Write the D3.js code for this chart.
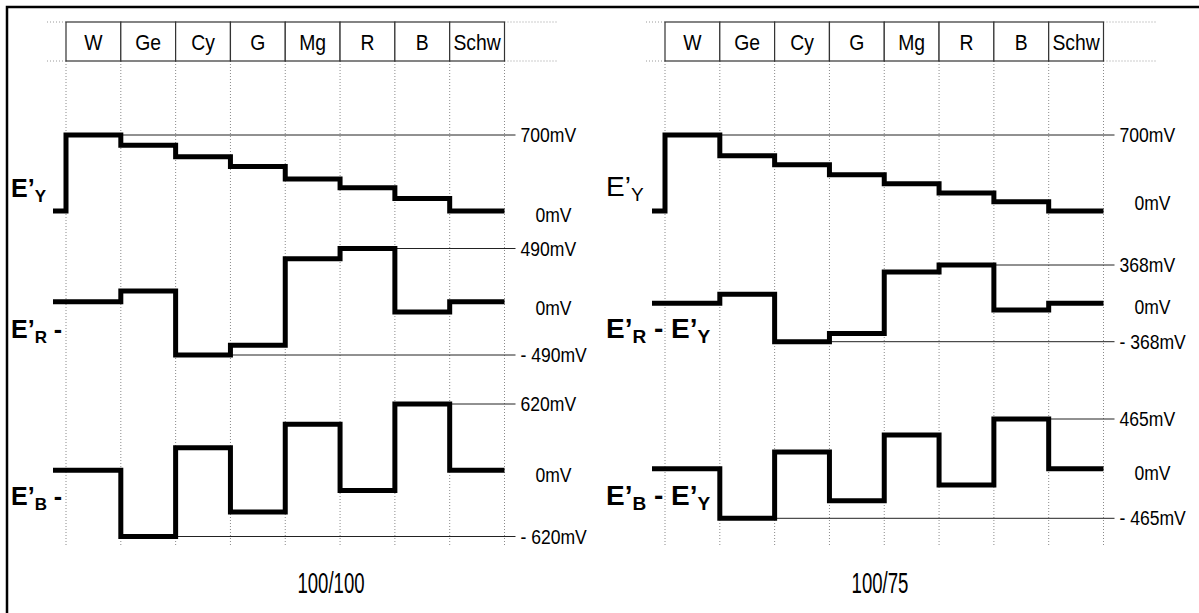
<!DOCTYPE html>
<html>
<head>
<meta charset="utf-8">
<script src="https://cdn.jsdelivr.net/npm/d3@7"></script>
<style>
  html, body { margin: 0; padding: 0; background: #fff; }
  svg { display: block; }
  text { font-family: "Liberation Sans", Arial, sans-serif; fill: #000; }
</style>
</head>
<body>
<svg id="chart" width="1199" height="613"></svg>
<script>
// Colour bar order
const categories = ["W", "Ge", "Cy", "G", "Mg", "R", "B", "Schw"];

// 100/100 colour bars, levels in mV
const lumaFull  = [700, 605, 500, 410, 295, 215, 115, 0];
const rDiffFull = [0, 100, -490, -400, 395, 490, -95, 0];
const bDiffFull = [0, -620, 210, -390, 430, -190, 620, 0];

// 100/75 colour bars, levels in mV
const lumaSat75  = [700, 510, 425, 335, 250, 165, 85, 0];
const rDiffSat75 = [0, 88, -368, -290, 300, 368, -63, 0];
const bDiffSat75 = [0, -465, 155, -300, 315, -152, 465, 0];

// Level markers written at the right of each trace
const lumaMarks   = [700, 0];
const rMarksFull  = [490, 0, -490];
const bMarksFull  = [620, 0, -620];
const rMarksSat75 = [368, 0, -368];
const bMarksSat75 = [465, 0, -465];

const panelTitles = ["100/100", "100/75"];

// ---------------------------------------------------------------------------
const svg = d3.select("#chart");

// outer frame (top and left edges)
svg.append("path")
  .attr("d", "M7,613 V7 H1199")
  .attr("fill", "none").attr("stroke", "#000").attr("stroke-width", 2.5);

const headerTop = 22, headerBottom = 61, gridBottom = 545;

const panels = [
  {
    left: 66, right: 504.5, title: panelTitles[0], titleX: 331,
    labelX: 11, labelSize: 25, labelWeight: "bold",
    rows: [
      { values: lumaFull,  marks: lumaMarks,  domain: [0, 700],     range: [211, 135],   zeroDy: 4,
        name: [["E’", 0], ["Y", 1]], base: 197 },
      { values: rDiffFull, marks: rMarksFull, domain: [-490, 490], range: [355, 248.5], zeroDy: 6,
        name: [["E’", 0], ["R", 1], [" -", 0]], base: 338 },
      { values: bDiffFull, marks: bMarksFull, domain: [-620, 620], range: [536.5, 404], zeroDy: 5,
        name: [["E’", 0], ["B", 1], [" -", 0]], base: 505 }
    ]
  },
  {
    left: 665, right: 1103.5, title: panelTitles[1], titleX: 880,
    labelX: 606, labelSize: 28, labelWeight: "bold",
    rows: [
      { values: lumaSat75,  marks: lumaMarks,   domain: [0, 700],     range: [211, 135],   zeroDy: -8,
        name: [["E’", 0], ["Y", 1]], base: 196, weight: "normal" },
      { values: rDiffSat75, marks: rMarksSat75, domain: [-368, 368], range: [341.7, 265], zeroDy: 3.5,
        name: [["E’", 0], ["R", 1], [" - E’", 0], ["Y", 1]], base: 338 },
      { values: bDiffSat75, marks: bMarksSat75, domain: [-465, 465], range: [518.3, 419], zeroDy: 4.5,
        name: [["E’", 0], ["B", 1], [" - E’", 0], ["Y", 1]], base: 505 }
    ]
  }
];

function fmtMark(v) {
  return (v < 0 ? "- " : "") + Math.abs(v) + "mV";
}

panels.forEach(p => {
  const g = svg.append("g");
  const x = d3.scaleLinear().domain([0, categories.length]).range([p.left, p.right]);
  const edges = d3.range(categories.length + 1);

  // dotted column guides
  g.selectAll("line.guide").data(edges).join("line")
    .attr("class", "guide")
    .attr("x1", d => x(d)).attr("x2", d => x(d))
    .attr("y1", headerBottom).attr("y2", gridBottom)
    .attr("stroke", "#8a8a8a").attr("stroke-width", 1)
    .attr("stroke-dasharray", "1,2");

  // dotted extensions of the header edges
  [headerTop, headerBottom].forEach(yy => {
    g.append("line").attr("x1", p.left - 19).attr("x2", p.left)
      .attr("y1", yy).attr("y2", yy)
      .attr("stroke", "#9a9a9a").attr("stroke-dasharray", "1,2");
    g.append("line").attr("x1", p.right).attr("x2", p.right + 53)
      .attr("y1", yy).attr("y2", yy)
      .attr("stroke", "#9a9a9a").attr("stroke-dasharray", "1,2");
  });

  // header boxes with colour names
  const head = g.selectAll("g.head").data(categories).join("g").attr("class", "head");
  head.append("rect")
    .attr("x", (d, i) => x(i)).attr("y", headerTop)
    .attr("width", (d, i) => x(i + 1) - x(i)).attr("height", headerBottom - headerTop)
    .attr("fill", "#fff").attr("stroke", "#333").attr("stroke-width", 1.2);
  head.append("text")
    .attr("transform", (d, i) => `translate(${(x(i) + x(i + 1)) / 2},${(headerTop + headerBottom) / 2 + 8}) scale(0.88,1)`)
    .attr("text-anchor", "middle")
    .attr("font-size", 22)
    .text(d => d);

  // traces
  p.rows.forEach(row => {
    const y = d3.scaleLinear().domain(row.domain).range(row.range);

    const pts = [[p.left - 13, 0]]
      .concat(row.values.map((v, i) => [x(i), v]))
      .concat([[x(categories.length), row.values[row.values.length - 1]]]);

    // thin reference lines at the extreme levels
    row.marks.filter(m => m !== 0).forEach(m => {
      const idx = row.values.indexOf(m);
      g.append("line")
        .attr("x1", x(idx + 1)).attr("x2", p.right + 11)
        .attr("y1", y(m)).attr("y2", y(m))
        .attr("stroke", "#222").attr("stroke-width", 1);
    });

    const line = d3.line()
      .x(d => d[0]).y(d => y(d[1]))
      .curve(d3.curveStepAfter);

    g.append("path")
      .datum(pts)
      .attr("d", line)
      .attr("fill", "none")
      .attr("stroke", "#000")
      .attr("stroke-width", 5)
      .attr("stroke-linejoin", "miter");

    // level marker text
    row.marks.forEach(m => {
      const tx = m === 0 ? p.right + 31 : p.right + 16;
      const ty = y(m) + (m === 0 ? row.zeroDy : 0) + 7;
      g.append("text")
        .attr("transform", `translate(${tx},${ty}) scale(0.9,1)`)
        .attr("font-size", 19.5)
        .text(fmtMark(m));
    });

    // signal name
    const t = g.append("text")
      .attr("x", p.labelX).attr("y", row.base)
      .attr("font-size", p.labelSize)
      .attr("font-weight", row.weight || p.labelWeight);
    let sub = 0;
    row.name.forEach(([s, isSub]) => {
      const dy = isSub === sub ? 0 : (isSub ? 5 : -5);
      sub = isSub;
      t.append("tspan")
        .attr("dy", dy)
        .attr("font-size", isSub ? p.labelSize * 0.68 : p.labelSize)
        .text(s);
    });
  });

  // panel caption
  g.append("text")
    .attr("transform", `translate(${p.titleX},593) scale(0.62,1)`)
    .attr("text-anchor", "middle")
    .attr("font-size", 30)
    .text(p.title);
});
</script>
</body>
</html>
